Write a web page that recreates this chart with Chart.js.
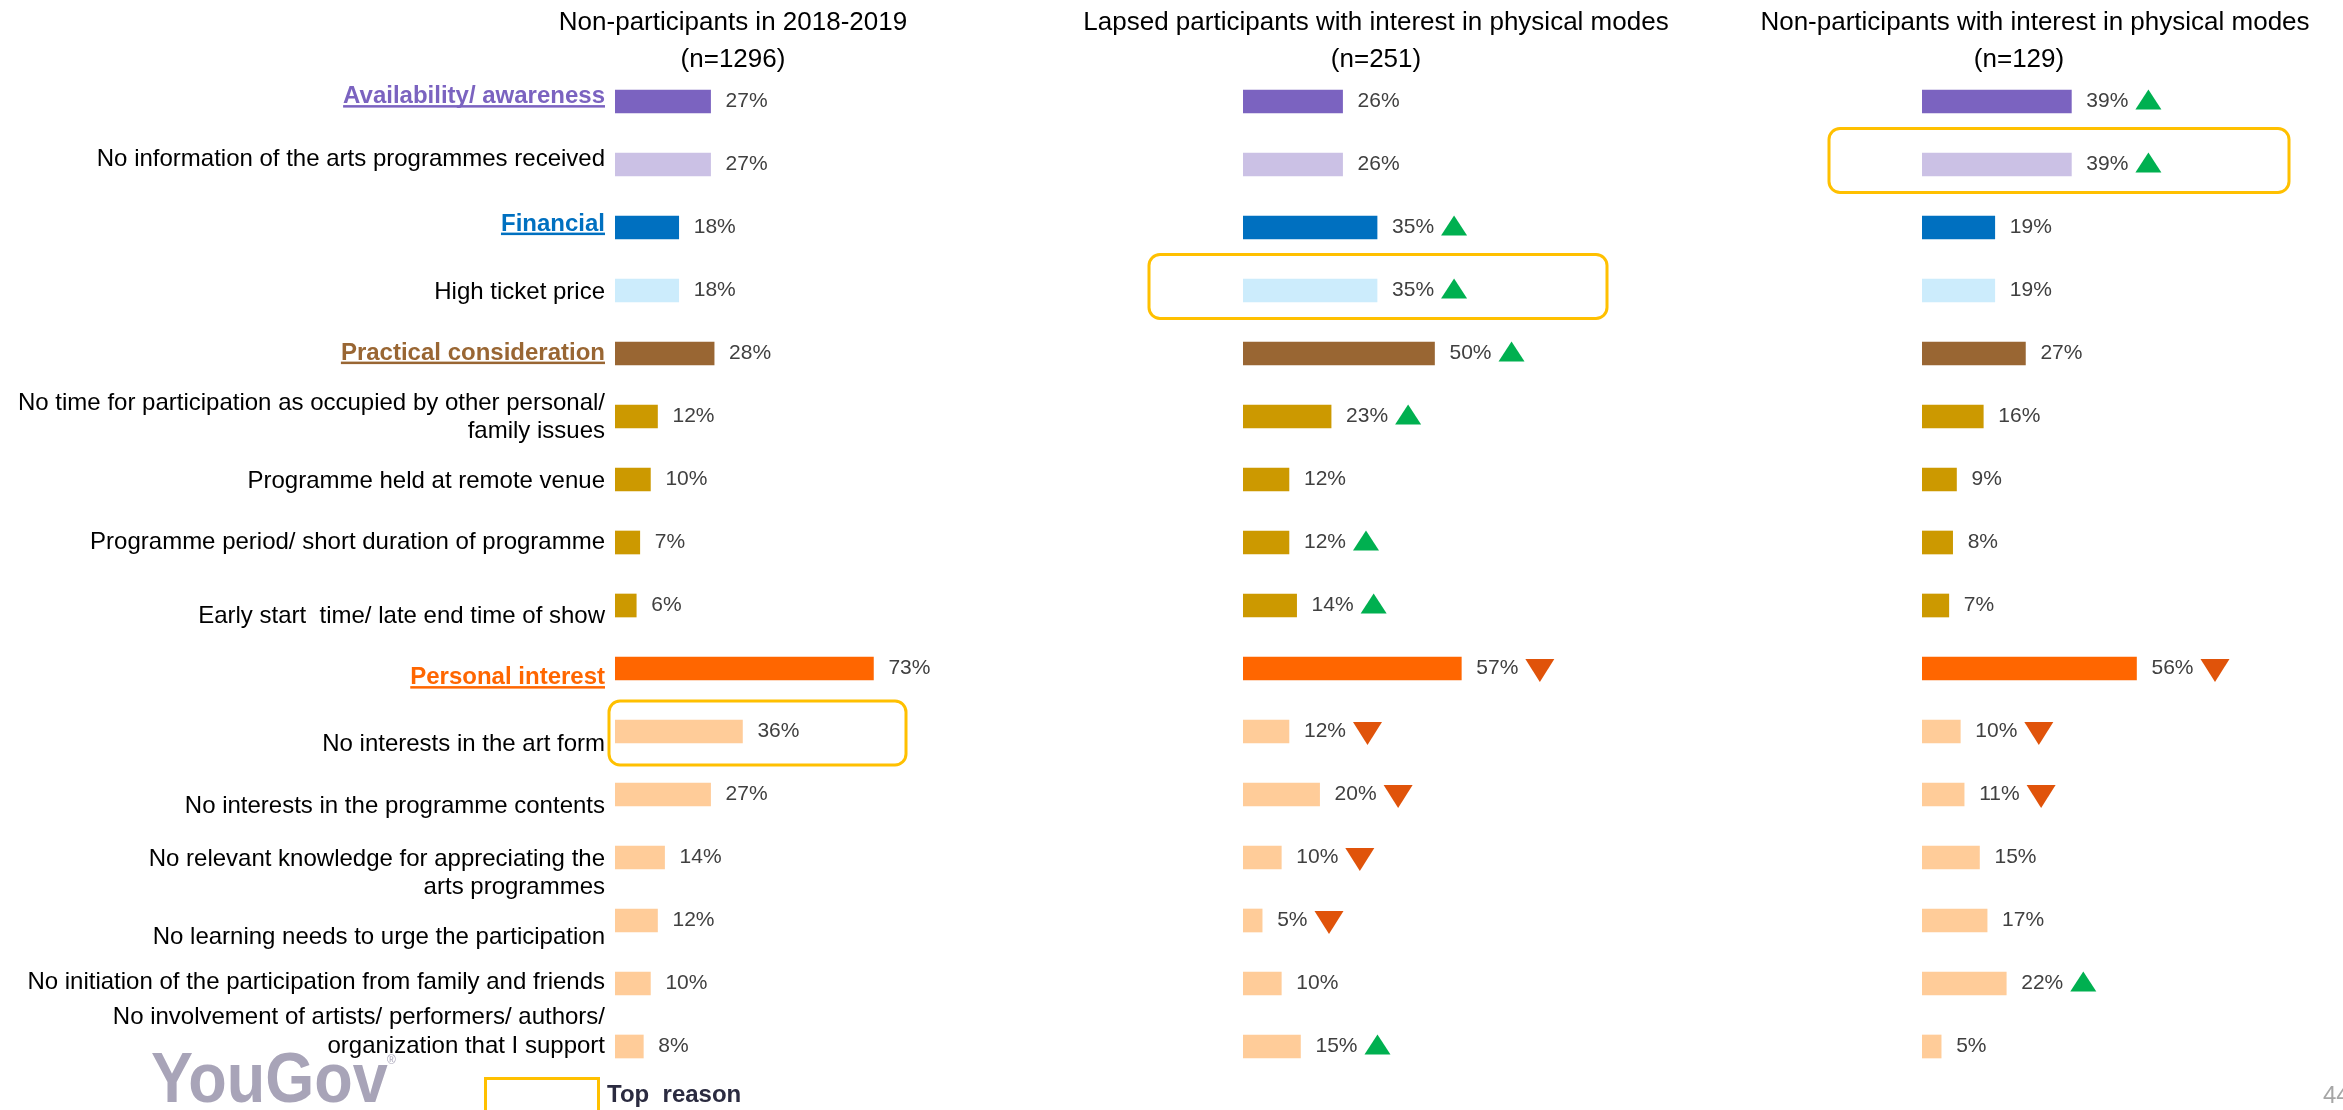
<!DOCTYPE html>
<html>
<head>
<meta charset="utf-8">
<script src="https://cdn.jsdelivr.net/npm/chart.js@4.4.0/dist/chart.umd.min.js"></script>
<style>
  html, body { margin: 0; padding: 0; background: #fff; }
  body { width: 2343px; height: 1110px; position: relative; overflow: hidden;
         font-family: "Liberation Sans", Arial, sans-serif; }
  canvas { position: absolute; top: 0; }
  .title { position: absolute; top: 3px; width: 700px; font-size: 26px; line-height: 37px;
           text-align: center; color: #000; white-space: nowrap; }
  .logo { position: absolute; left: 151px; top: 1043px; font-size: 70px; line-height: 70px;
          font-weight: bold; color: #a8a4b8; transform: scaleX(0.9); transform-origin: left top; }
  .reg { position: absolute; left: 387px; top: 1053px; font-size: 12px; color: #a8a4b8; }
  .keybox { position: absolute; left: 484px; top: 1077px; width: 116px; height: 60px;
            box-sizing: border-box; border: 3px solid #ffc000; }
  .keytext { position: absolute; left: 607px; top: 1082px; font-size: 24px; line-height: 24px;
             font-weight: bold; color: #2b2b40; white-space: pre; }
  .page { position: absolute; left: 2323px; top: 1083px; font-size: 24px; line-height: 24px; color: #a6a6a6; }
</style>
</head>
<body>

<canvas id="nonPart" width="1000" height="1110" style="left:0px"></canvas>
<canvas id="lapsed" width="700" height="1110" style="left:1000px"></canvas>
<canvas id="nonPartPhys" width="643" height="1110" style="left:1700px"></canvas>

<div class="title" style="left:383px">Non-participants in 2018-2019<br>(n=1296)</div>
<div class="title" style="left:1026px">Lapsed participants with interest in physical modes<br>(n=251)</div>
<div class="title" style="left:1685px">Non-participants with interest in physical modes<br><span style="padding-right:32px">(n=129)</span></div>

<div class="logo">YouGov</div>
<div class="reg">®</div>
<div class="keybox"></div>
<div class="keytext">Top  reason</div>
<div class="page">44</div>

<script>
// reasons for not taking part, top to bottom
var reasons = [
    'Availability/ awareness',
    'No information of the arts programmes received',
    'Financial',
    'High ticket price',
    'Practical consideration',
    ['No time for participation as occupied by other personal/', 'family issues'],
    'Programme held at remote venue',
    'Programme period/ short duration of programme',
    'Early start  time/ late end time of show',
    'Personal interest',
    'No interests in the art form',
    'No interests in the programme contents',
    ['No relevant knowledge for appreciating the', 'arts programmes'],
    'No learning needs to urge the participation',
    'No initiation of the participation from family and friends',
    ['No involvement of artists/ performers/ authors/', 'organization that I support']
];
var headerRows = [0, 2, 4, 9];

var nonParticipants = [27, 27, 18, 18, 28, 12, 10, 7, 6, 73, 36, 27, 14, 12, 10, 8];
var lapsedPhysical = [26, 26, 35, 35, 50, 23, 12, 12, 14, 57, 12, 20, 10, 5, 10, 15];
var nonPartPhysical = [39, 39, 19, 19, 27, 16, 9, 8, 7, 56, 10, 11, 15, 17, 22, 5];

// significantly higher / lower than the non-participants
var lapsedSig = ['', '', 'up', 'up', 'up', 'up', '', 'up', 'up', 'down', 'down', 'down', 'down', 'down', '', 'up'];
var nonPartSig = ['up', 'up', '', '', '', '', '', '', '', 'down', 'down', 'down', '', '', 'up', ''];

var rowColors = ['#7b63c0', '#cbc1e5', '#0070c0', '#ccecfc', '#996633',
    '#cc9900', '#cc9900', '#cc9900', '#cc9900',
    '#ff6600', '#ffcc99', '#ffcc99', '#ffcc99', '#ffcc99', '#ffcc99', '#ffcc99'];

// small vertical nudges of the category text against its bar
var labelNudge = [-7, -7, -5.5, 0, -2.5, -1, 0, -2.5, 9, 7, 10.5, 9.5, 14, 15, -3, -16.5];

var FONT = '"Liberation Sans", Arial, sans-serif';

function drawTriangle(ctx, dir, x, cy) {
    ctx.beginPath();
    if (dir === 'up') {
        ctx.fillStyle = '#00b050';
        cy -= 2;
        ctx.moveTo(x, cy + 10);
        ctx.lineTo(x + 13, cy - 10);
        ctx.lineTo(x + 26, cy + 10);
    } else {
        ctx.fillStyle = '#e0530a';
        cy += 2;
        ctx.moveTo(x, cy - 11.5);
        ctx.lineTo(x + 29, cy - 11.5);
        ctx.lineTo(x + 14.5, cy + 11.5);
    }
    ctx.closePath();
    ctx.fill();
}

function makeChart(id, values, cfg) {
    var reasonLabels = {
        id: 'reasonLabels',
        afterDraw: function (chart) {
            if (!cfg.showLabels) return;
            var ctx = chart.ctx, y = chart.scales.y;
            var right = chart.chartArea.left - 10;
            ctx.save();
            ctx.textAlign = 'right';
            ctx.textBaseline = 'alphabetic';
            reasons.forEach(function (label, i) {
                var lines = [].concat(label);
                var isHeader = headerRows.indexOf(i) >= 0;
                ctx.font = (isHeader ? 'bold ' : '') + '24px ' + FONT;
                ctx.fillStyle = isHeader ? rowColors[i] : '#000';
                var mid = y.getPixelForValue(i) + labelNudge[i];
                var first = mid - (lines.length - 1) * 28.5 / 2;
                lines.forEach(function (line, k) {
                    var base = first + k * 28.5 + 8.6;
                    ctx.fillText(line, right, base);
                    if (isHeader) {
                        var w = ctx.measureText(line).width;
                        ctx.fillRect(right - w, base + 2, w, 2.5);
                    }
                });
            });
            ctx.restore();
        }
    };

    var valueLabels = {
        id: 'valueLabels',
        afterDatasetsDraw: function (chart) {
            var ctx = chart.ctx;
            var meta = chart.getDatasetMeta(0);
            ctx.save();
            ctx.font = '21px ' + FONT;
            ctx.textAlign = 'left';
            ctx.textBaseline = 'middle';
            meta.data.forEach(function (bar, i) {
                var text = values[i] + '%';
                var x = bar.x + 15;
                ctx.fillStyle = '#404040';
                ctx.fillText(text, x, bar.y);
                if (cfg.sig && cfg.sig[i]) {
                    drawTriangle(ctx, cfg.sig[i], x + ctx.measureText(text).width + 7, bar.y);
                }
            });
            ctx.restore();
        }
    };

    // rounded frame around the top reason of each group
    var topReason = {
        id: 'topReason',
        afterDraw: function (chart) {
            var b = cfg.box, a = chart.chartArea, ctx = chart.ctx;
            var cy = chart.scales.y.getPixelForValue(b.row) + b.dy;
            ctx.save();
            ctx.strokeStyle = '#ffc000';
            ctx.lineWidth = 3;
            ctx.beginPath();
            ctx.roundRect(a.left + b.from, cy - 32, b.to - b.from, 64, 11);
            ctx.stroke();
            ctx.restore();
        }
    };

    return new Chart(document.getElementById(id), {
        type: 'bar',
        data: {
            labels: reasons.map(function (r) { return [].concat(r).join(' '); }),
            datasets: [{
                data: values,
                backgroundColor: rowColors,
                borderWidth: 0,
                barThickness: 23
            }]
        },
        options: {
            indexAxis: 'y',
            responsive: false,
            animation: false,
            layout: { padding: cfg.padding },
            scales: {
                x: { display: false, min: 0, max: 100 },
                y: { display: false }
            },
            plugins: {
                legend: { display: false },
                tooltip: { enabled: false }
            }
        },
        plugins: [reasonLabels, valueLabels, topReason]
    });
}

makeChart('nonPart', nonParticipants, {
    showLabels: true,
    padding: { left: 615, right: 31, top: 70, bottom: 32 },
    box: { row: 10, from: -6, to: 291, dy: 1.5 }
});

makeChart('lapsed', lapsedPhysical, {
    sig: lapsedSig,
    padding: { left: 243, right: 74, top: 70, bottom: 32 },
    box: { row: 3, from: -94, to: 364, dy: -4 }
});

makeChart('nonPartPhys', nonPartPhysical, {
    sig: nonPartSig,
    padding: { left: 222, right: 38, top: 70, bottom: 32 },
    box: { row: 1, from: -93, to: 367, dy: -4 }
});
</script>
</body>
</html>
